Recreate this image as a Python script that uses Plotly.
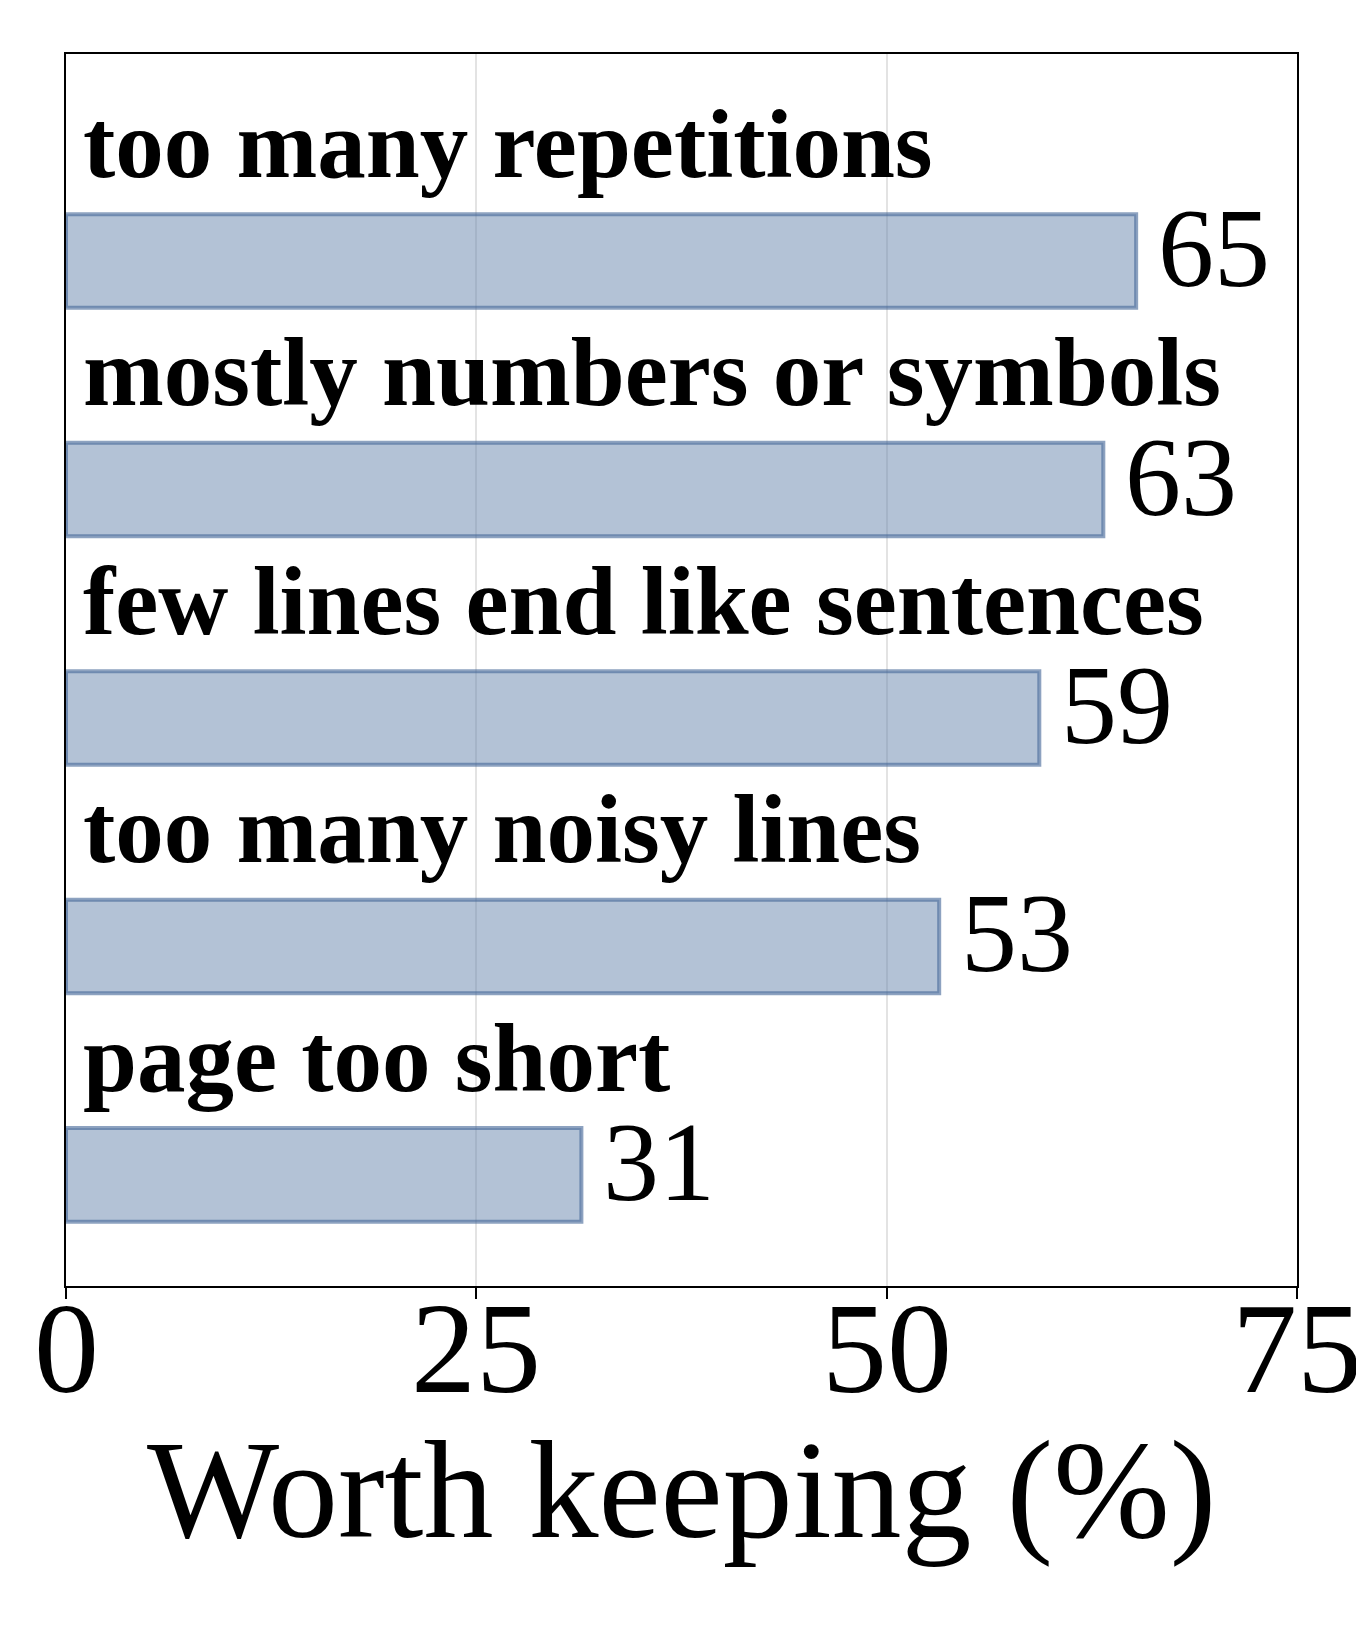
import plotly.graph_objects as go

# reasons a page was flagged, top to bottom
reasons = [
    "too many repetitions",
    "mostly numbers or symbols",
    "few lines end like sentences",
    "too many noisy lines",
    "page too short",
]
worth_keeping = [65.2, 63.2, 59.3, 53.2, 31.4]
x_ticks = [0, 25, 50, 75]

FONT = "Times New Roman, Liberation Serif, serif"

fig = go.Figure()
fig.add_trace(
    go.Bar(
        orientation="h",
        x=worth_keeping,
        y=reasons,
        width=0.41,
        marker=dict(
            color="rgba(103,133,173,0.5)",
            line=dict(color="rgba(65,100,150,0.6)", width=4),
        ),
        showlegend=False,
        hoverinfo="skip",
    )
)

for name, val in zip(reasons, worth_keeping):
    # reason label above each bar
    fig.add_annotation(
        x=0.9, y=name, text="<b>%s</b>" % name, showarrow=False,
        xanchor="left", yanchor="bottom", yshift=61,
        font=dict(family=FONT, size=97, color="black"),
    )
    # value next to bar end
    fig.add_annotation(
        x=val, y=name, text="%.0f" % val, showarrow=False,
        xanchor="left", yanchor="middle", xshift=20, yshift=13,
        font=dict(family=FONT, size=112, color="black"),
    )

# tick labels drawn as annotations so they can sit close to the axis
for t in x_ticks:
    fig.add_annotation(
        x=t, y=0, yref="paper", text=str(t), showarrow=False,
        xanchor="center", yanchor="top", yshift=12,
        font=dict(family=FONT, size=130, color="black"),
    )
fig.add_annotation(
    x=0.5, xref="paper", y=0, yref="paper", text="Worth keeping (%)",
    showarrow=False, xanchor="center", yanchor="top", yshift=-124,
    font=dict(family=FONT, size=140, color="black"),
)

fig.update_xaxes(
    range=[0, 75],
    tickvals=x_ticks, showticklabels=False,
    ticks="outside", ticklen=11, tickwidth=2, tickcolor="black",
    showline=True, linecolor="black", linewidth=2, mirror=True,
    showgrid=True, gridcolor="#e3e3e3", gridwidth=1.5,
    zeroline=False, automargin=False,
)
fig.update_yaxes(
    categoryorder="array", categoryarray=reasons[::-1],
    range=[-0.486, 4.906],
    showticklabels=False, ticks="",
    showline=True, linecolor="black", linewidth=2, mirror=True,
    showgrid=False, zeroline=False, automargin=False,
)
fig.update_layout(
    width=1356, height=1620,
    margin=dict(l=58, r=67, t=46, b=342),
    plot_bgcolor="white", paper_bgcolor="white",
    font=dict(family=FONT, color="black"),
)

fig.write_html("out.html")
